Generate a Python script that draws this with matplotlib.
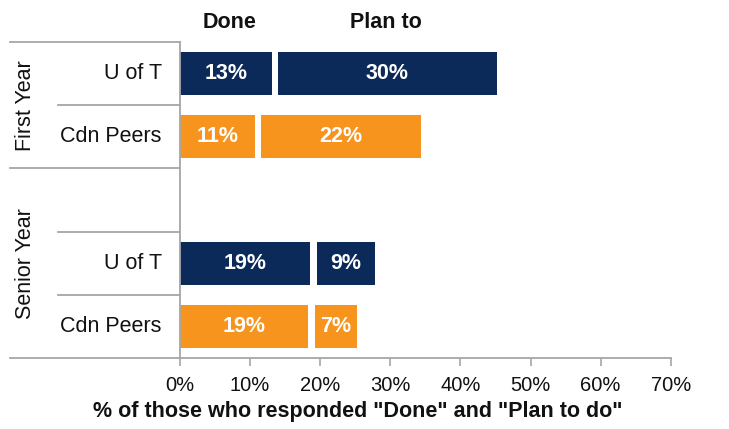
import matplotlib
matplotlib.use("Agg")
import matplotlib.pyplot as plt
from matplotlib.transforms import blended_transform_factory
from matplotlib.ticker import FuncFormatter

plt.rcParams['font.family'] = ['Liberation Sans', 'DejaVu Sans']

# ---- data ----
categories = ["U of T", "Cdn Peers", "", "U of T", "Cdn Peers"]
groups = ["First Year", "Senior Year"]
done_vals = [13.1, 10.7, None, 18.6, 18.3]
plan_vals = [31.2, 22.8, None, 8.3, 6.0]
done_labels = ["13%", "11%", "", "19%", "19%"]
plan_labels = ["30%", "22%", "", "9%", "7%"]
series_names = ["Done", "Plan to"]
xticks = [0, 10, 20, 30, 40, 50, 60, 70]
xlabel = '% of those who responded "Done" and "Plan to do"'

# ---- style ----
NAVY = "#0B2A59"
ORANGE = "#F7941E"
GRID = "#A6A6A6"
TXT = "#111111"
row_colors = [NAVY, ORANGE, None, NAVY, ORANGE]
GAP = 0.9
BAR_H = 0.68

fig = plt.figure(figsize=(7.29, 4.29), dpi=100)
ax = fig.add_axes([180/729, 1-358/429, (670.7-180)/729, (358-42)/429])

ypos = list(range(len(categories)))
for y, d, p, dl, pl, c in zip(ypos, done_vals, plan_vals, done_labels, plan_labels, row_colors):
    if d is None:
        continue
    ax.barh(y, d, left=0, height=BAR_H, color=c, edgecolor="none")
    ax.barh(y, p, left=d + GAP, height=BAR_H, color=c, edgecolor="none")
    ax.text(d / 2, y, dl, ha="center", va="center", color="white",
            fontsize=15.5, fontweight="bold")
    ax.text(d + GAP + p / 2, y, pl, ha="center", va="center", color="white",
            fontsize=15.5, fontweight="bold")

ax.set_xlim(0, 70)
ax.set_ylim(4.5, -0.5)
ax.set_xticks(xticks)
ax.xaxis.set_major_formatter(FuncFormatter(lambda v, _: f"{int(v)}%"))
ax.tick_params(axis="x", direction="out", length=6, width=1.2, color=GRID,
               labelsize=14.5, pad=7, labelcolor=TXT)
ax.set_yticks([])
for s in ["top", "right"]:
    ax.spines[s].set_visible(False)
for s in ["left", "bottom"]:
    ax.spines[s].set_color(GRID)
    ax.spines[s].set_linewidth(1.3)

# x-axis title (centered as in the reference)
fig.text(358/729, 1-412/429, xlabel, ha="center", va="center",
         fontsize=15.5, fontweight="bold", color=TXT)

# multi-level category table on the left
tr = blended_transform_factory(ax.transAxes, ax.transData)
x_outer = (10 - 180) / 490.7
x_inner = (58 - 180) / 490.7
boundaries = [(-0.5, x_outer), (0.5, x_inner), (1.5, x_outer),
              (2.5, x_inner), (3.5, x_inner), (4.5, x_outer)]
for yb, x0 in boundaries:
    ax.plot([x0, 0], [yb, yb], color=GRID, lw=1.3, transform=tr, clip_on=False)

for y, lab in zip(ypos, categories):
    if lab:
        ax.text(-0.037, y, lab, transform=tr, ha="right", va="center",
                fontsize=15.5, color=TXT)

x_grp = (26 - 180) / 490.7
ax.text(x_grp, 0.5, groups[0], transform=tr, rotation=90, ha="center",
        va="center", fontsize=15.5, color=TXT)
ax.text(x_grp, 3.0, groups[1], transform=tr, rotation=90, ha="center",
        va="center", fontsize=15.5, color=TXT)

# series headers
fig.text(230/729, 1-22/429, series_names[0], ha="center", va="center",
         fontsize=15.5, fontweight="bold", color=TXT)
fig.text(386/729, 1-22/429, series_names[1], ha="center", va="center",
         fontsize=15.5, fontweight="bold", color=TXT)

fig.savefig("out.png", dpi=100, facecolor="white")
